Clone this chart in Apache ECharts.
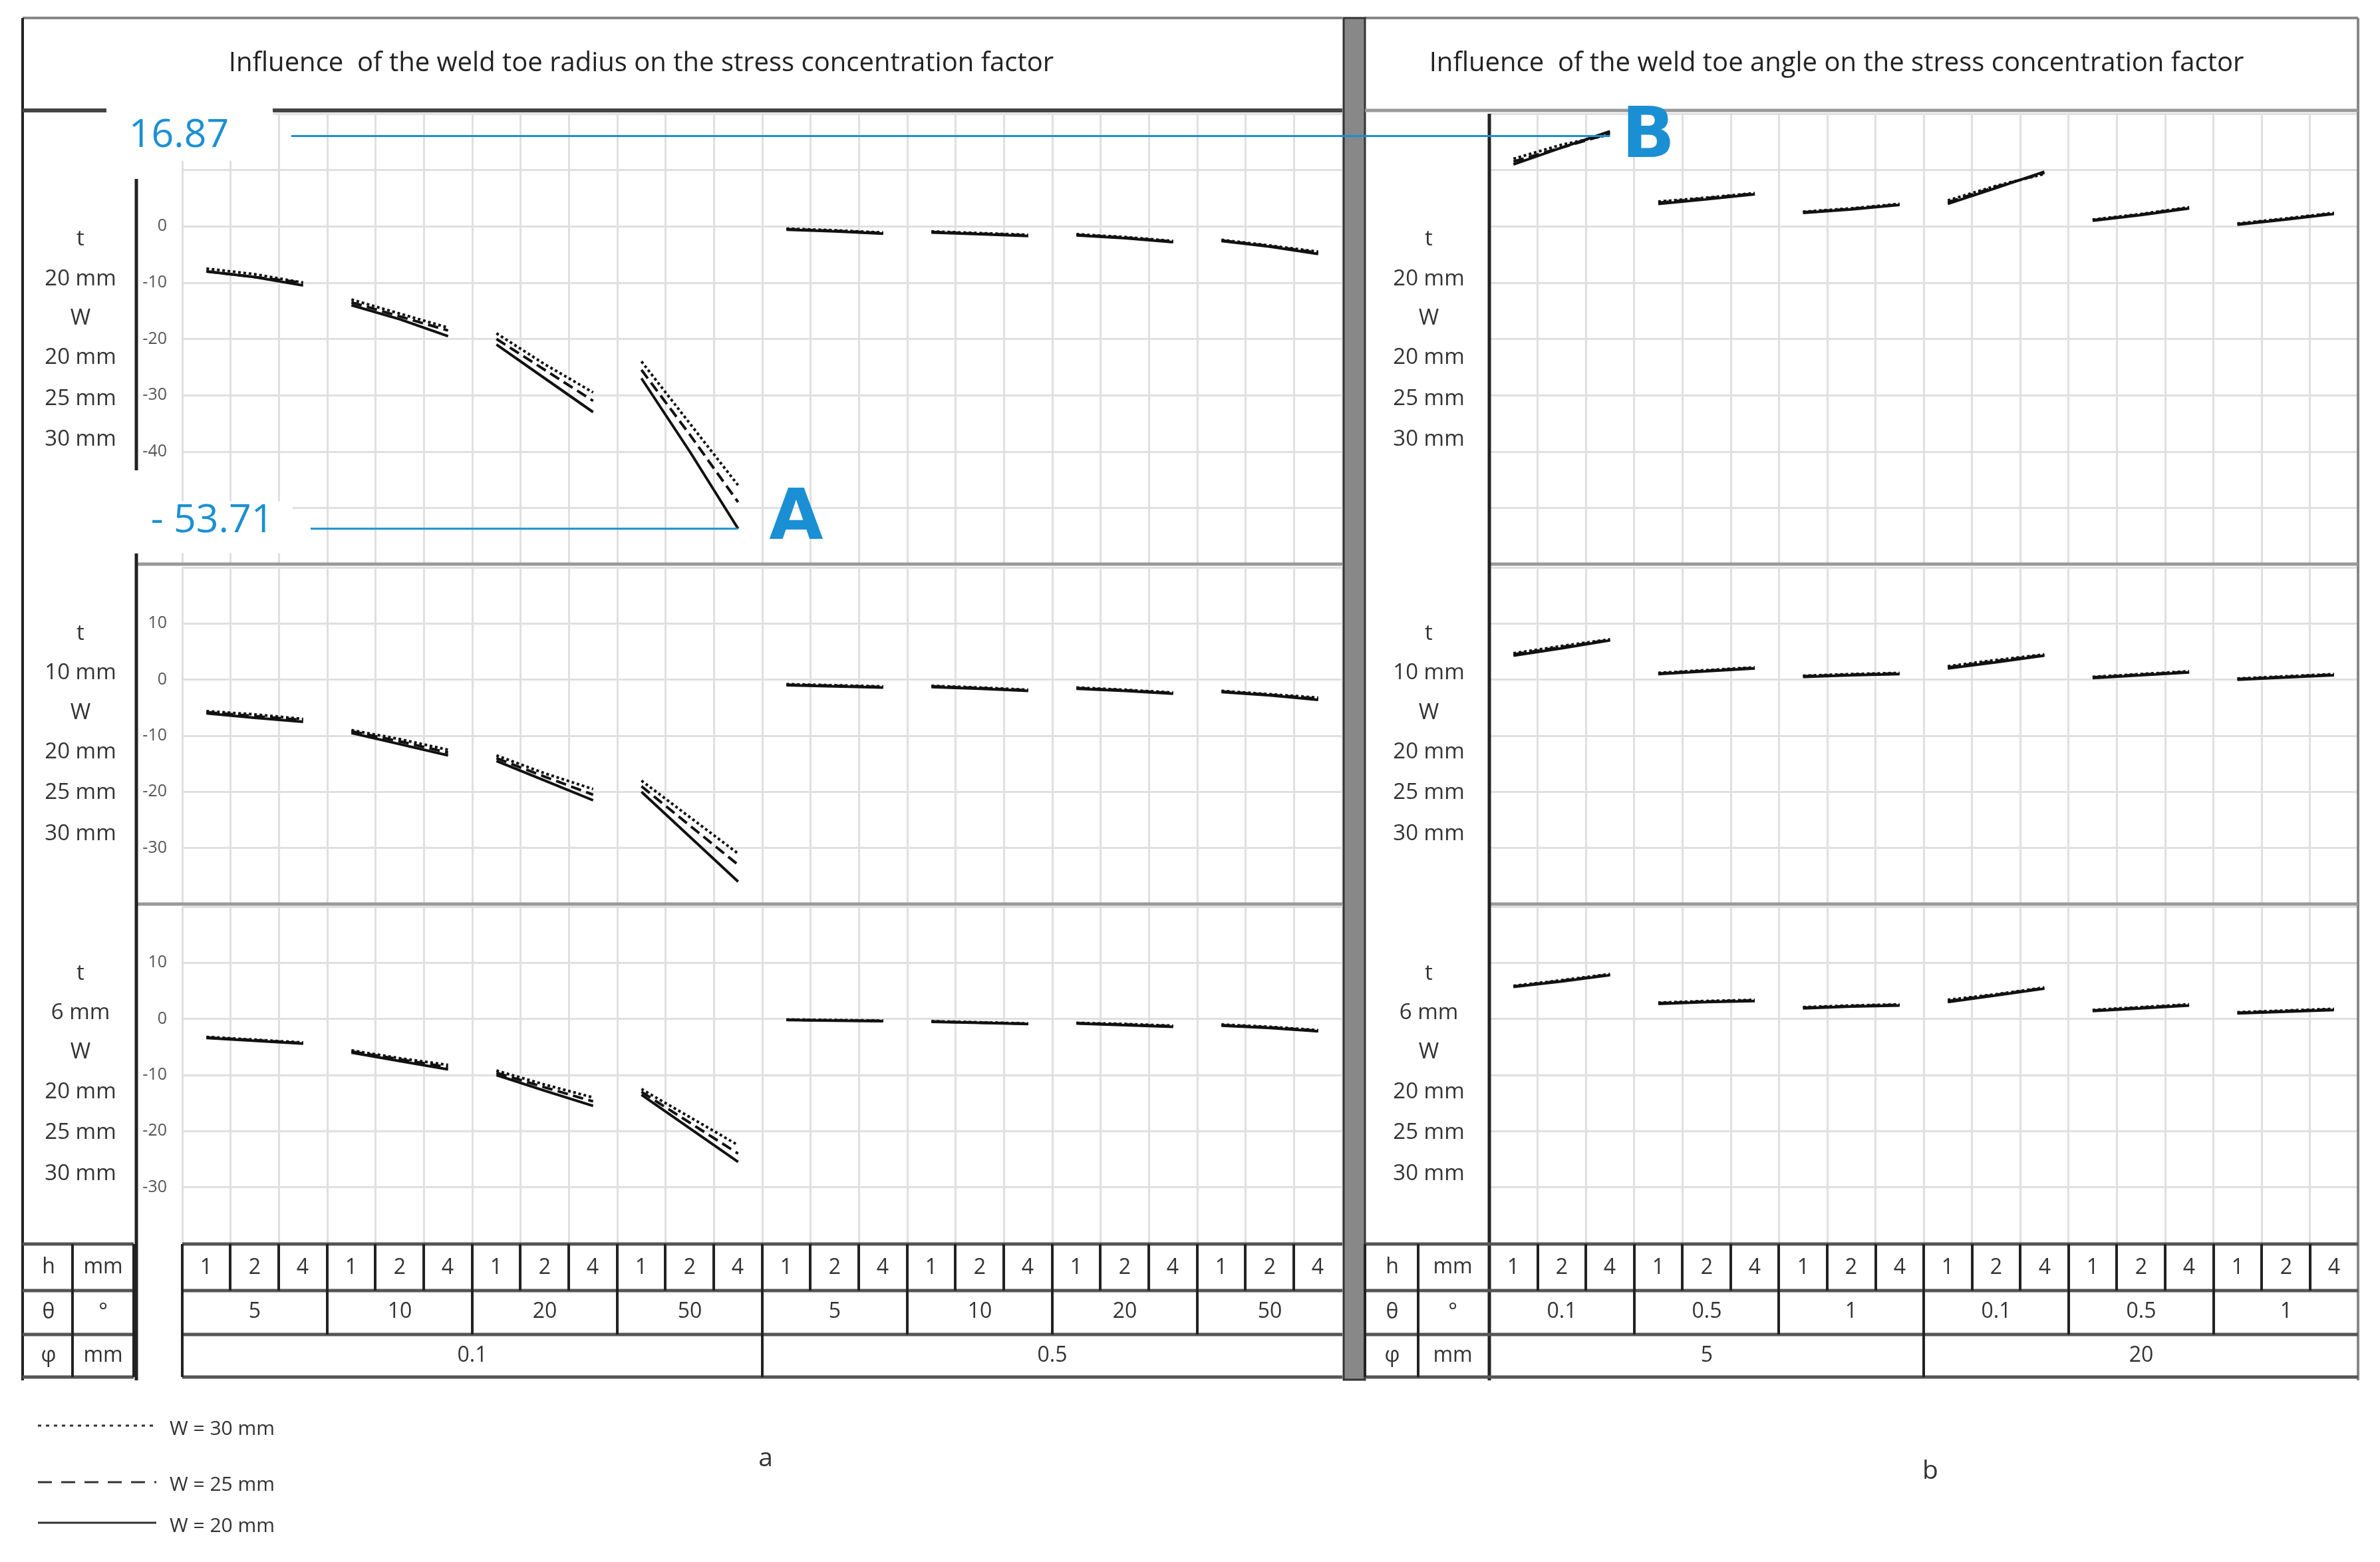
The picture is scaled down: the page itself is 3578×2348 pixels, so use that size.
<!DOCTYPE html>
<html>
<head>
<meta charset="utf-8">
<script src="https://cdn.jsdelivr.net/npm/echarts@6/dist/echarts.min.js"></script>
<style>
  html, body { margin: 0; padding: 0; background: #fff; }
  #main { width: 3578px; height: 2348px; }
</style>
</head>
<body>
<div id="main"></div>
<script>
// categories
const hLabels = ['1', '2', '4'];
const thetaLeft = ['5', '10', '20', '50', '5', '10', '20', '50'];
const phiLeft = ['0.1', '0.5'];
const thetaRight = ['0.1', '0.5', '1', '0.1', '0.5', '1'];
const phiRight = ['5', '20'];
const rowThick = ['20 mm', '10 mm', '6 mm'];
const yTicksShown = [[0, -10, -20, -30, -40], [10, 0, -10, -20, -30], [10, 0, -10, -20, -30]];

// left panel (a): stress concentration factor change, per thickness row, per W (3 values per group)
const leftT20W20 = [-8, -9, -10.5, -14, -16.5, -19.5, -21, -27, -33, -27, -40, -53.71, -0.6, -0.9, -1.3, -1.1, -1.4, -1.7, -1.6, -2.1, -2.8, -2.6, -3.6, -4.9];
const leftT20W25 = [-8, -9, -10, -13.5, -16, -18.5, -20, -25.5, -31, -25.5, -37, -49, -0.5, -0.8, -1.2, -1, -1.3, -1.6, -1.5, -2, -2.7, -2.5, -3.5, -4.7];
const leftT20W30 = [-7.5, -8.5, -10, -13, -15.5, -18, -19, -24.5, -29.5, -24, -35, -46, -0.4, -0.7, -1.1, -0.9, -1.2, -1.5, -1.4, -1.9, -2.6, -2.4, -3.4, -4.5];
const leftT10W20 = [-6, -6.8, -7.5, -9.5, -11.5, -13.5, -14.5, -18, -21.5, -20, -28, -36, -1, -1.2, -1.4, -1.3, -1.6, -2, -1.6, -2, -2.5, -2.2, -2.8, -3.6];
const leftT10W25 = [-5.8, -6.5, -7.2, -9.2, -11, -13, -14, -17.3, -20.5, -19, -26, -33, -0.9, -1.1, -1.3, -1.2, -1.5, -1.9, -1.5, -1.9, -2.4, -2.1, -2.7, -3.4];
const leftT10W30 = [-5.6, -6.2, -7, -9, -10.6, -12.5, -13.5, -16.7, -19.5, -18, -24.5, -31, -0.8, -1, -1.2, -1.1, -1.4, -1.8, -1.4, -1.8, -2.3, -2, -2.6, -3.2];
const leftT6W20 = [-3.4, -3.9, -4.4, -6, -7.5, -9, -10, -12.8, -15.5, -13.5, -19.5, -25.5, -0.2, -0.3, -0.4, -0.5, -0.7, -0.9, -0.8, -1.1, -1.4, -1.2, -1.6, -2.2];
const leftT6W25 = [-3.3, -3.8, -4.3, -5.8, -7.2, -8.6, -9.6, -12.2, -14.7, -13, -18.5, -24, -0.15, -0.25, -0.35, -0.45, -0.65, -0.85, -0.75, -1, -1.3, -1.1, -1.5, -2.1];
const leftT6W30 = [-3.2, -3.7, -4.2, -5.6, -7, -8.2, -9.2, -11.7, -14, -12.5, -17.5, -22.5, -0.1, -0.2, -0.3, -0.4, -0.6, -0.8, -0.7, -0.9, -1.2, -1, -1.4, -2];

// right panel (b)
const rightT20W20 = [11, 14, 16.87, 4, 4.8, 5.7, 2.4, 3, 3.8, 4, 6.8, 9.7, 1, 2, 3.2, 0.3, 1.2, 2.2];
const rightT20W25 = [11.5, 14, 16.5, 4.2, 5, 5.8, 2.5, 3.1, 3.9, 4.3, 7, 9.5, 1.1, 2.1, 3.3, 0.4, 1.3, 2.3];
const rightT20W30 = [12, 14.5, 16.3, 4.4, 5.1, 5.9, 2.6, 3.2, 4, 4.6, 7.2, 9.3, 1.2, 2.2, 3.4, 0.5, 1.4, 2.4];
const rightT10W20 = [4.3, 5.6, 7, 1, 1.5, 2, 0.5, 0.8, 1, 2, 3.1, 4.3, 0.3, 0.8, 1.3, 0, 0.4, 0.8];
const rightT10W25 = [4.5, 5.8, 7.1, 1.1, 1.6, 2.1, 0.6, 0.9, 1.1, 2.2, 3.3, 4.4, 0.4, 0.9, 1.4, 0.1, 0.5, 0.9];
const rightT10W30 = [4.7, 6, 7.2, 1.2, 1.7, 2.2, 0.7, 1, 1.2, 2.4, 3.5, 4.5, 0.5, 1, 1.5, 0.2, 0.6, 1];
const rightT6W20 = [5.7, 6.7, 7.8, 2.7, 3, 3.2, 1.9, 2.2, 2.4, 3, 4.2, 5.4, 1.4, 1.9, 2.4, 1, 1.3, 1.6];
const rightT6W25 = [5.8, 6.8, 7.9, 2.8, 3.1, 3.3, 2, 2.3, 2.5, 3.2, 4.3, 5.5, 1.5, 2, 2.5, 1.1, 1.4, 1.7];
const rightT6W30 = [5.9, 6.9, 8, 2.9, 3.2, 3.4, 2.1, 2.4, 2.6, 3.4, 4.4, 5.6, 1.6, 2.1, 2.6, 1.2, 1.5, 1.8];

const annotA = -53.71;
const annotB = 16.87;

const leftRows = [[leftT20W20, leftT20W25, leftT20W30], [leftT10W20, leftT10W25, leftT10W30], [leftT6W20, leftT6W25, leftT6W30]];
const rightRows = [[rightT20W20, rightT20W25, rightT20W30], [rightT10W20, rightT10W25, rightT10W30], [rightT6W20, rightT6W25, rightT6W30]];
const lineTypes = ['solid', 'dashed', 'dotted'];

const S = 2.28;   // layout drawn in 1568x1030 units, scaled up
const p = v => Math.round(v * S);
const FONT = 'Open Sans';

const rowsY = [[75, 372], [374, 596], [598, 820]];
const LX = [120, 885], RX = [982, 1555];

const grids = [], xAxes = [], yAxes = [], series = [];

function addPanel (rows, xr, nCat, showY) {
  rows.forEach((ws, r) => {
    const gi = grids.length;
    grids.push({ left: p(xr[0]), width: p(xr[1] - xr[0]), top: p(rowsY[r][0]), height: p(rowsY[r][1] - rowsY[r][0]) });
    xAxes.push({
      gridIndex: gi, type: 'category', data: Array.from({ length: nCat }, (_, i) => hLabels[i % 3]),
      boundaryGap: true, axisLine: { show: false }, axisTick: { show: false }, axisLabel: { show: false },
      splitLine: { show: true, lineStyle: { color: '#e0e0e0', width: 3 } }
    });
    yAxes.push({
      gridIndex: gi, type: 'value', min: r === 0 ? -60 : -40, max: 20, interval: 10,
      axisLine: { show: false }, axisTick: { show: false },
      axisLabel: {
        show: showY, margin: p(10), color: '#555', fontSize: p(11), fontFamily: FONT,
        formatter: v => yTicksShown[r].includes(v) ? String(v) : ''
      },
      splitLine: { show: true, lineStyle: { color: '#e0e0e0', width: 3 } }
    });
    ws.forEach((vals, w) => {
      for (let g = 0; g < nCat / 3; g++) {
        series.push({
          type: 'line', xAxisIndex: gi, yAxisIndex: gi, symbol: 'none', silent: true,
          data: vals.map((v, i) => Math.floor(i / 3) === g ? v : null),
          lineStyle: { color: '#111', width: p(w === 0 ? 1.6 : 1.8), type: lineTypes[w] },
          z: 5 - w
        });
      }
    });
  });
}
addPanel(leftRows, LX, 24, true);
addPanel(rightRows, RX, 18, false);

// static frame, headers, table and annotations
const G = [];
const line = (x1, y1, x2, y2, c, w) => G.push({ type: 'line', shape: { x1: p(x1), y1: p(y1), x2: p(x2), y2: p(y2) }, style: { stroke: c || '#222', lineWidth: w || 4 }, z: 10 });
const text = (x, y, t, o) => G.push({ type: 'text', x: p(x), y: p(y), style: Object.assign({ text: t, fontFamily: FONT, fontSize: p(14), fill: '#333', align: 'center', verticalAlign: 'middle' }, o || {}), z: 11 });

// outer frame
line(15, 12, 885, 12, '#888', 4); line(900, 12, 1555, 12, '#888', 4);
line(15, 12, 15, 910); line(1555, 12, 1555, 910, '#888', 4);
G.push({ type: 'rect', shape: { x: p(886), y: p(12), width: p(14), height: p(898) }, style: { fill: '#888', stroke: '#333', lineWidth: 3 }, z: 10 });
// header separators
line(15, 73, 70, 73, '#444', 6); line(180, 73, 885, 73, '#444', 6); line(900, 73, 1555, 73, '#999', 5);
text(423, 42, 'Influence  of the weld toe radius on the stress concentration factor', { fontSize: p(17.5), fill: '#222' });
text(1211, 42, 'Influence  of the weld toe angle on the stress concentration factor', { fontSize: p(17.5), fill: '#222' });
// row separators
[372, 596].forEach(y => { line(90, y, 885, y, '#999', 5); line(982, y, 1555, y, '#999', 5); });
line(982, 75, 982, 910, '#222', 5);
line(90, 118, 90, 310, '#222', 5); line(90, 365, 90, 910, '#222', 5);
// row labels
[158, 418, 642].forEach((y0, i) => {
  const lab = ['t', rowThick[i], 'W', '20 mm', '25 mm', '30 mm'];
  lab.forEach((t, k) => {
    const y = y0 + [0, 26, 52, 78, 105, 132][k];
    text(53, y, t, { fontSize: p(14.5), fill: '#333' });
    text(942, y, t, { fontSize: p(14.5), fill: '#333' });
  });
});
// table
const tY = [820, 851, 880, 908];
tY.forEach((y, i) => { line(15, y, 88, y, '#555', 5); line(120, y, 885, y, '#555', 5); line(900, y, 1555, y, '#555', 5); });
line(48, 820, 48, 908); line(88, 820, 88, 908); line(120, 820, 120, 908);
line(935, 820, 935, 908); line(900, 820, 900, 908);
[['h', 'mm'], ['θ', '°'], ['φ', 'mm']].forEach((s, i) => {
  const y = (tY[i] + tY[i + 1]) / 2;
  text(32, y, s[0], { fontSize: p(14) }); text(68, y, s[1], { fontSize: p(14) });
  text(918, y, s[0], { fontSize: p(14) }); text(958, y, s[1], { fontSize: p(14) });
});
function table (x0, x1, n, thetas, phis) {
  const cw = (x1 - x0) / n;
  for (let i = 0; i < n; i++) {
    text(x0 + cw * (i + 0.5), 836, hLabels[i % 3], { fontSize: p(14) });
    if (i > 0) line(x0 + cw * i, 820, x0 + cw * i, 851);
  }
  thetas.forEach((t, g) => {
    text(x0 + cw * (3 * g + 1.5), 865, t, { fontSize: p(14) });
    if (g > 0) line(x0 + cw * 3 * g, 851, x0 + cw * 3 * g, 880);
  });
  const half = n / 2;
  phis.forEach((t, g) => {
    text(x0 + cw * (half * g + half / 2), 894, t, { fontSize: p(14) });
  });
  line(x0 + cw * half, 880, x0 + cw * half, 908);
}
table(LX[0], LX[1], 24, thetaLeft, phiLeft);
table(RX[0], RX[1], 18, thetaRight, phiRight);
// legend
[['W = 30 mm', [2, 3], 940], ['W = 25 mm', [9, 6], 977], ['W = 20 mm', null, 1004]].forEach(l => {
  G.push({ type: 'line', shape: { x1: p(25), y1: p(l[2]), x2: p(103), y2: p(l[2]) }, style: { stroke: '#333', lineWidth: p(1.5), lineDash: l[1] ? l[1].map(p) : null }, z: 10 });
  text(112, l[2] + 2, l[0], { align: 'left', fontSize: p(13) });
});
text(505, 962, 'a', { fontSize: p(17) });
text(1273, 970, 'b', { fontSize: p(17) });

const blue = '#1b8fd3';
const chart = echarts.init(document.getElementById('main'));
chart.setOption({
  animation: false,
  grid: grids, xAxis: xAxes, yAxis: yAxes, series: series,
  graphic: G
});

// annotations positioned via the library's scales
const pB = chart.convertToPixel({ xAxisIndex: 3, yAxisIndex: 3 }, [2, annotB]);
const pA = chart.convertToPixel({ xAxisIndex: 0, yAxisIndex: 0 }, [11, annotA]);
const yB = pB[1] + p(3);
G.push({ type: 'line', shape: { x1: p(192), y1: yB, x2: pB[0], y2: yB }, style: { stroke: blue, lineWidth: p(1.4) }, z: 12 });
G.push({ type: 'rect', shape: { x: p(70), y: yB - p(16), width: p(110), height: p(32) }, style: { fill: '#fff' }, z: 11 });
text(118, yB / S, annotB.toFixed(2), { fill: blue, fontSize: p(26) });
text(1087, yB / S + 2, 'B', { fill: blue, fontSize: p(46), fontWeight: 'bold', fontFamily: 'DejaVu Sans' });
G.push({ type: 'line', shape: { x1: p(205), y1: pA[1], x2: pA[0], y2: pA[1] }, style: { stroke: blue, lineWidth: p(1.4) }, z: 12 });
G.push({ type: 'rect', shape: { x: p(88), y: pA[1] - p(18), width: p(105), height: p(34) }, style: { fill: '#fff' }, z: 11 });
text(140, pA[1] / S - 5, '- ' + Math.abs(annotA).toFixed(2), { fill: blue, fontSize: p(26) });
text(525, pA[1] / S - 5, 'A', { fill: blue, fontSize: p(46), fontWeight: 'bold', fontFamily: 'DejaVu Sans' });
chart.setOption({ graphic: G });
</script>
</body>
</html>
